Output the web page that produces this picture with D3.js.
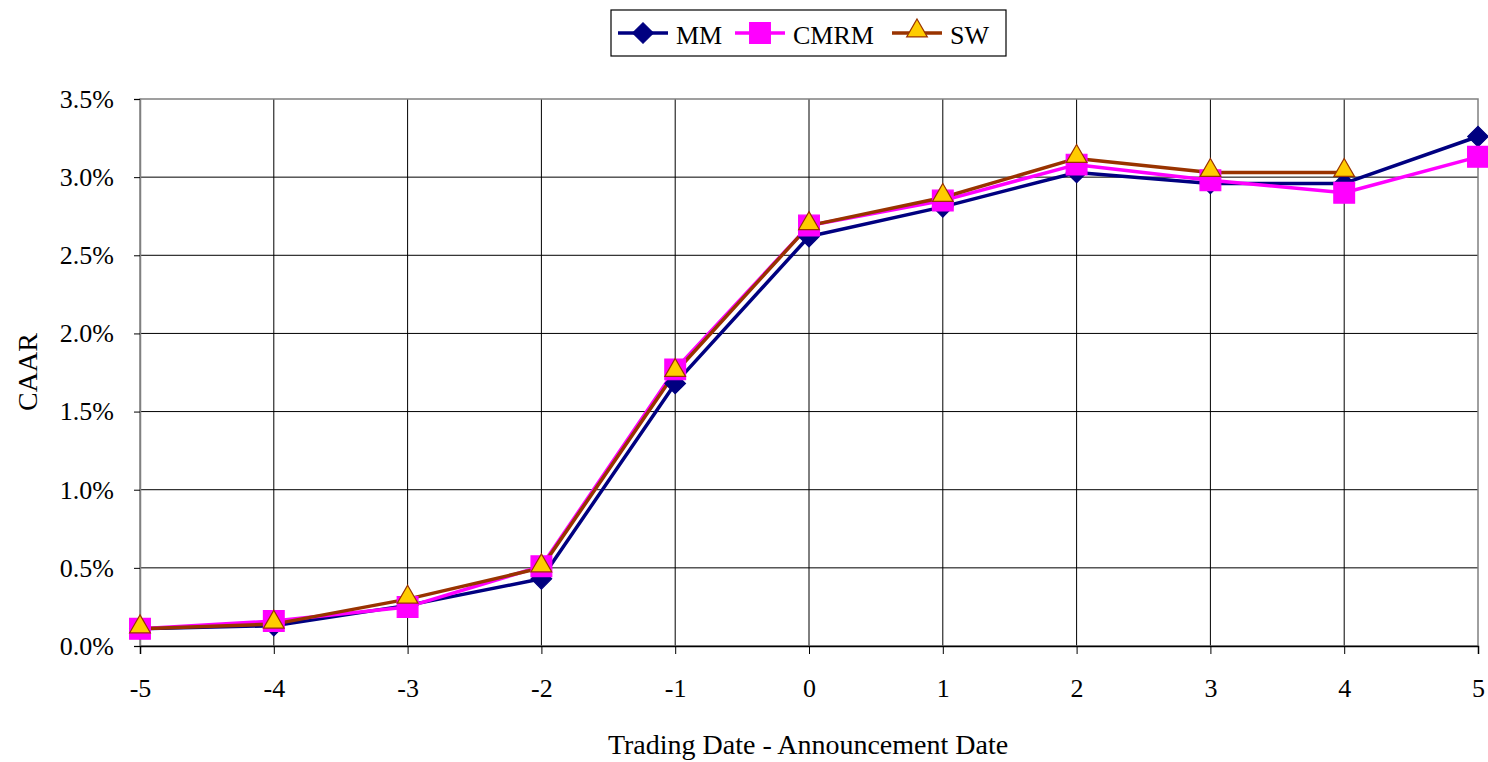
<!DOCTYPE html>
<html><head><meta charset="utf-8">
<script src="https://cdn.jsdelivr.net/npm/d3@7"></script>
<style>body{margin:0;background:#fff;} svg{display:block;font-family:"Liberation Serif","Times New Roman",serif;}</style>
</head><body><svg id="c" width="1488" height="762"></svg>
<script>
const days = [-5,-4,-3,-2,-1,0,1,2,3,4,5];
const mm   = [0.11,0.13,0.26,0.43,1.68,2.62,2.81,3.03,2.96,2.96,3.26];
const cmrm = [0.11,0.16,0.25,0.51,1.77,2.69,2.85,3.08,2.98,2.90,3.13];
const sw   = [0.11,0.14,0.30,0.50,1.75,2.69,2.87,3.12,3.03,3.03,null];
const yTicks = [0,0.5,1.0,1.5,2.0,2.5,3.0,3.5];
const seriesNames = ["MM","CMRM","SW"];

const svg = d3.select("#c");
const L=140,R=1478,T=99,B=646;
const x = d3.scaleLinear().domain([-5,5]).range([L,R]);
const y = d3.scaleLinear().domain([0,3.5]).range([B,T]);

// grid
svg.append("g").selectAll("line").data(yTicks.filter(v=>v>0&&v<3.5)).join("line")
  .attr("x1",L).attr("x2",R).attr("y1",d=>y(d)).attr("y2",d=>y(d)).attr("stroke","#000").attr("stroke-width",1);
svg.append("g").selectAll("line").data(days.filter(v=>v>-5&&v<5)).join("line")
  .attr("x1",d=>x(d)).attr("x2",d=>x(d)).attr("y1",T).attr("y2",B).attr("stroke","#000").attr("stroke-width",1);
// border
svg.append("rect").attr("x",L).attr("y",T).attr("width",R-L).attr("height",B-T).attr("fill","none").attr("stroke","#808080").attr("stroke-width",1.5);

// axes
const yAxis = d3.axisLeft(y).tickValues(yTicks).tickFormat(d=>d3.format(".1f")(d)+"%").tickSize(6).tickPadding(20);
const gy = svg.append("g").attr("transform",`translate(${L},0)`).call(yAxis);
gy.select(".domain").attr("stroke","#808080").attr("stroke-width",1.5);
gy.selectAll(".tick line").attr("stroke","#000");
gy.selectAll("text").attr("font-size",26).attr("font-family","Liberation Serif").attr("fill","#000");

const xAxis = d3.axisBottom(x).tickValues(days).tickFormat(d=>String(d)).tickSize(8).tickPadding(25);
const gx = svg.append("g").attr("transform",`translate(0,${B})`).call(xAxis);
gx.select(".domain").attr("stroke","#000").attr("stroke-width",1.5);
gx.selectAll(".tick line").attr("stroke","#000");
gx.selectAll("text").attr("font-size",26).attr("font-family","Liberation Serif").attr("fill","#000");

svg.append("text").attr("x",808).attr("y",754).attr("text-anchor","middle").attr("font-size",28).text("Trading Date - Announcement Date");
svg.append("text").attr("transform","translate(37,372) rotate(-90)").attr("text-anchor","middle").attr("font-size",28).text("CAAR");

const line = d3.line().defined(d=>d!=null).x((d,i)=>x(days[i])).y(d=>y(d));
const styles = [
  {data:mm, color:"#000080", sym:"diamond", fill:"#000080", stroke:"#000080"},
  {data:cmrm, color:"#FF00FF", sym:"square", fill:"#FF00FF", stroke:"#FF00FF"},
  {data:sw, color:"#993300", sym:"triangle", fill:"#FFCC00", stroke:"#993300"}
];
function symPath(kind){
  if(kind==="diamond") return d3.symbol().type(d3.symbolSquare).size(210)();
  if(kind==="square") return d3.symbol().type(d3.symbolSquare).size(430)();
  return d3.symbol().type(d3.symbolTriangle).size(185)();
}
function symTf(kind){
  if(kind==="diamond") return " rotate(45)";
  if(kind==="triangle") return " translate(0,-2)";
  return "";
}
styles.forEach(s=>{
  svg.append("path").datum(s.data).attr("d",line).attr("fill","none").attr("stroke",s.color).attr("stroke-width",3.5).attr("stroke-linejoin","round");
});
styles.forEach(s=>{
  const pts = s.data.map((v,i)=>({v,i})).filter(d=>d.v!=null);
  svg.append("g").selectAll("path").data(pts).join("path")
    .attr("transform",d=>`translate(${x(days[d.i])},${y(d.v)})`+symTf(s.sym))
    .attr("d",symPath(s.sym)).attr("fill",s.fill).attr("stroke",s.stroke).attr("stroke-width",1.2);
});

// legend
const lg = svg.append("g");
lg.append("rect").attr("x",611).attr("y",10).attr("width",395).attr("height",46).attr("fill","#fff").attr("stroke","#000").attr("stroke-width",1.2);
const lx = [618,735,892];
styles.forEach((s,i)=>{
  lg.append("line").attr("x1",lx[i]).attr("x2",lx[i]+50).attr("y1",33).attr("y2",33).attr("stroke",s.color).attr("stroke-width",3.5);
  lg.append("path").attr("transform",`translate(${lx[i]+25},33)`+symTf(s.sym))
    .attr("d",symPath(s.sym)).attr("fill",s.fill).attr("stroke",s.stroke).attr("stroke-width",1.2);
  lg.append("text").attr("x",lx[i]+58).attr("y",44).attr("font-size",26).text(seriesNames[i]);
});
</script></body></html>
